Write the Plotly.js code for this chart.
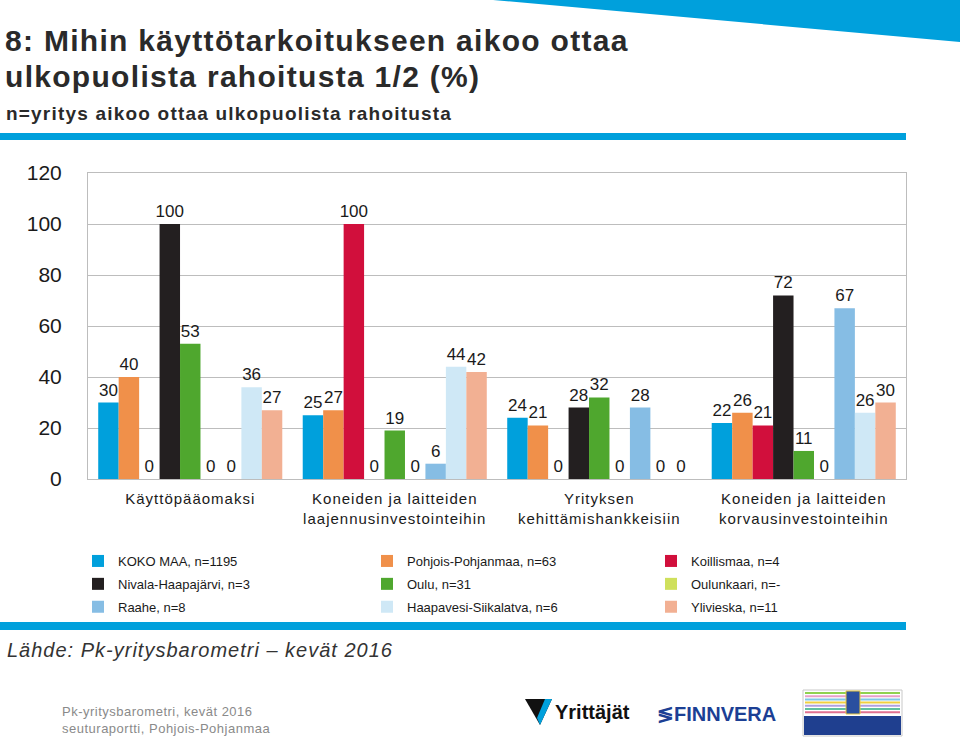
<!DOCTYPE html>
<html><head><meta charset="utf-8">
<script src="https://cdn.plot.ly/plotly-3.0.1.min.js"></script>
<style>html,body{margin:0;padding:0;background:#fff;}#chart{width:960px;height:738px;}</style>
</head><body><div id="chart"></div>
<script>
// ---- data ----
const categories = ["Käyttöpääomaksi","Koneiden ja laitteiden laajennusinvestointeihin","Yrityksen kehittämishankkeisiin","Koneiden ja laitteiden korvausinvestointeihin"];
const categoryLabels = ["Käyttöpääomaksi","Koneiden ja laitteiden<br>laajennusinvestointeihin","Yrityksen<br>kehittämishankkeisiin","Koneiden ja laitteiden<br>korvausinvestointeihin"];
const seriesNames = ["KOKO MAA, n=1195","Pohjois-Pohjanmaa, n=63","Koillismaa, n=4","Nivala-Haapajärvi, n=3","Oulu, n=31","Oulunkaari, n=-","Raahe, n=8","Haapavesi-Siikalatva, n=6","Ylivieska, n=11"];
const kokoMaa = [30, 25, 24, 22];
const pohjoisPohjanmaa = [40, 27, 21, 26];
const koillismaa = [0, 100, 0, 21];
const nivalaHaapajarvi = [100, 0, 28, 72];
const oulu = [53, 19, 32, 11];
const oulunkaari = [0, 0, 0, 0];
const raahe = [0, 6, 28, 67];
const haapavesiSiikalatva = [36, 44, 0, 26];
const ylivieska = [27, 42, 0, 30];
const yTicks = [0, 20, 40, 60, 80, 100, 120];

const seriesValues = [kokoMaa, pohjoisPohjanmaa, koillismaa, nivalaHaapajarvi, oulu, oulunkaari, raahe, haapavesiSiikalatva, ylivieska];
const colors = ["#00a0dc","#f0904a","#d10f3c","#231f20","#4fa72e","#cfe05c","#86bde4","#cfe8f6","#f2b093"];
// legend column of each series (3 columns, row-wise order)
const legendIds = ["legend","legend2","legend3","legend","legend2","legend3","legend","legend2","legend3"];

const FONT = "Liberation Sans, Arial, sans-serif";
const sp = (t, s) => `<span style="letter-spacing:${s}px">${t}</span>`;

const traces = seriesValues.map((vals, i) => ({
  type: "bar", x: categories, y: vals, name: seriesNames[i],
  marker: {color: colors[i]}, text: vals.map(String), textposition: "outside",
  constraintext: "none", cliponaxis: false,
  textfont: {family: FONT, size: 17, color: "#1a1a1a"},
  legend: legendIds[i], legendgroup: "g" + i, hoverinfo: "x+y+name"
}));

// pixel helpers for decorations (plot area: x 88..906, y 173..479)
const L = 88, R = 906, T = 173, B = 479;
const px = v => (v - L) / (R - L);
const py = v => (B - v) / (B - T);

const shapes = [
  {type: "path", xref: "paper", yref: "paper", path: `M ${px(493)} ${py(0)} L ${px(960)} ${py(0)} L ${px(960)} ${py(42)} Z`, fillcolor: "#00a0dc", line: {width: 0}, layer: "above"},
  {type: "rect", xref: "paper", yref: "paper", x0: px(0), x1: px(906), y0: py(133), y1: py(140), fillcolor: "#00a0dc", line: {width: 0}},
  {type: "rect", xref: "paper", yref: "paper", x0: px(0), x1: px(906), y0: py(622), y1: py(630), fillcolor: "#00a0dc", line: {width: 0}},
  // ministry logo
  {type: "rect", xref: "paper", yref: "paper", x0: px(803), x1: px(902), y0: py(690), y1: py(736), fillcolor: "#ffffff", line: {color: "#c8c8c8", width: 1}},
  {type: "rect", xref: "paper", yref: "paper", x0: px(804), x1: px(901), y0: py(716), y1: py(735), fillcolor: "#1f3f8f", line: {width: 0}},
];
const stripeCols = ["#8fd14f","#e8a0c8","#7fc8e8","#f0d040","#b0a0e0","#60c0a0","#e07090"];
stripeCols.forEach((c, k) => shapes.push({type: "line", xref: "paper", yref: "paper", x0: px(805), x1: px(900), y0: py(693 + k * 3.2), y1: py(693 + k * 3.2), line: {color: c, width: 2}}));
shapes.push({type: "rect", xref: "paper", yref: "paper", x0: px(846), x1: px(860), y0: py(691), y1: py(714), fillcolor: "#2a4f9f", line: {color: "#e8c840", width: 1}});
// Yrittäjät mark
shapes.push({type: "path", xref: "paper", yref: "paper", path: `M ${px(525)} ${py(699)} L ${px(552)} ${py(699)} L ${px(540)} ${py(725)} Z`, fillcolor: "#111111", line: {width: 0}});
shapes.push({type: "path", xref: "paper", yref: "paper", path: `M ${px(545)} ${py(699)} L ${px(552)} ${py(699)} L ${px(540)} ${py(725)} L ${px(537)} ${py(718)} Z`, fillcolor: "#00a0dc", line: {width: 0}});

const annotations = [
  {xref: "paper", yref: "paper", x: px(3), y: py(40), xanchor: "left", yanchor: "middle", showarrow: false,
   text: sp("<b>8: Mihin käyttötarkoitukseen aikoo ottaa</b>", 1.3), font: {family: FONT, size: 30, color: "#2a2a2a"}},
  {xref: "paper", yref: "paper", x: px(3), y: py(76), xanchor: "left", yanchor: "middle", showarrow: false,
   text: sp("<b>ulkopuolista rahoitusta 1/2 (%)</b>", 1.3), font: {family: FONT, size: 30, color: "#2a2a2a"}},
  {xref: "paper", yref: "paper", x: px(4), y: py(113), xanchor: "left", yanchor: "middle", showarrow: false,
   text: sp("<b>n=yritys aikoo ottaa ulkopuolista rahoitusta</b>", 1.2), font: {family: FONT, size: 19, color: "#2a2a2a"}},
  {xref: "paper", yref: "paper", x: px(5), y: py(650), xanchor: "left", yanchor: "middle", showarrow: false,
   text: sp("<i>Lähde: Pk-yritysbarometri – kevät 2016</i>", 1), font: {family: FONT, size: 20, color: "#333333"}},
  {xref: "paper", yref: "paper", x: px(60), y: py(720), xanchor: "left", yanchor: "middle", showarrow: false, align: "left",
   text: sp("Pk-yritysbarometri, kevät 2016", 0.5) + "<br>" + sp("seuturaportti, Pohjois-Pohjanmaa", 0.5), font: {family: FONT, size: 13, color: "#8a8a8a"}},
  {xref: "paper", yref: "paper", x: px(553), y: py(712), xanchor: "left", yanchor: "middle", showarrow: false,
   text: "<b>Yrittäjät</b>", font: {family: FONT, size: 20, color: "#111111"}},
  {xref: "paper", yref: "paper", x: px(655), y: py(714), xanchor: "left", yanchor: "middle", showarrow: false,
   text: "<b>≶FINNVERA</b>", font: {family: FONT, size: 20, color: "#1c3f94"}},
];

const legendBase = {orientation: "v", xanchor: "left", yanchor: "top", y: py(546), bgcolor: "rgba(0,0,0,0)",
  font: {family: FONT, size: 13, color: "#1a1a1a"}, traceorder: "grouped", tracegroupgap: 3, itemclick: false, itemdoubleclick: false};

const layout = {
  width: 960, height: 738,
  margin: {l: L, r: 960 - R, t: T, b: 738 - B, pad: 0},
  paper_bgcolor: "#ffffff", plot_bgcolor: "#ffffff",
  title: {text: ""},
  barmode: "group", bargap: 0.1, bargroupgap: 0,
  showlegend: true,
  legend: Object.assign({}, legendBase, {x: px(78)}),
  legend2: Object.assign({}, legendBase, {x: px(367)}),
  legend3: Object.assign({}, legendBase, {x: px(651)}),
  xaxis: {type: "category", tickvals: categories, ticktext: categoryLabels.map(t => t.split("<br>").map(s => sp(s, 1)).join("<br>")),
    showgrid: false, showline: true, mirror: true,
    linecolor: "#bdbdbd", linewidth: 1, ticks: "", ticklabelstandoff: 6,
    tickfont: {family: FONT, size: 15, color: "#1a1a1a"}},
  yaxis: {range: [0, 120], tickvals: yTicks, showgrid: true, gridcolor: "#bdbdbd", gridwidth: 1, showline: true, mirror: true,
    linecolor: "#bdbdbd", linewidth: 1, ticks: "", zeroline: false, ticklabelstandoff: 21,
    tickfont: {family: FONT, size: 21, color: "#1a1a1a"}},
  shapes: shapes, annotations: annotations,
  font: {family: FONT}
};

Plotly.newPlot("chart", traces, layout, {displayModeBar: false, staticPlot: true});
</script>
</body></html>
